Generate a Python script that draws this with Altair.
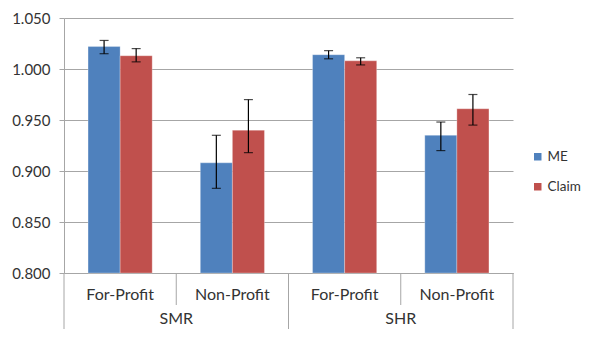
import altair as alt
import pandas as pd

groups = ["SMR", "SMR", "SHR", "SHR"]
types = ["For-Profit", "Non-Profit", "For-Profit", "Non-Profit"]
series = ["ME", "Claim"]
me_vals = [1.022, 0.908, 1.014, 0.935]
me_lo = [1.015, 0.883, 1.010, 0.920]
me_hi = [1.028, 0.935, 1.018, 0.948]
claim_vals = [1.013, 0.940, 1.008, 0.961]
claim_lo = [1.007, 0.918, 1.004, 0.945]
claim_hi = [1.020, 0.970, 1.011, 0.975]
colors = ["#4F81BD", "#C0504D"]

cats = [f"{g}|{t}" for g, t in zip(groups, types)]
rows = []
for i, c in enumerate(cats):
    rows.append({"cat": c, "series": "ME", "value": me_vals[i], "lo": me_lo[i], "hi": me_hi[i]})
    rows.append({"cat": c, "series": "Claim", "value": claim_vals[i], "lo": claim_lo[i], "hi": claim_hi[i]})
df = pd.DataFrame(rows)

W, H = 449, 255
FONT = "Lato"
TXT = "#333333"
GRID = "#A6A6A6"

xscale = alt.Scale(domain=cats, paddingInner=0, paddingOuter=0)
xoff = alt.XOffset("series:N", sort=series, scale=alt.Scale(domain=series, paddingInner=0, paddingOuter=0.75))
yscale = alt.Scale(domain=[0.8, 1.05], nice=False, zero=False)

base = alt.Chart(df)

bars = base.mark_bar(stroke="white", strokeOpacity=0.35, strokeWidth=0.8).encode(
    x=alt.X("cat:N", scale=xscale, sort=cats,
            axis=alt.Axis(title=None, labelExpr="split(datum.label, '|')[1]", labelAngle=0,
                          ticks=False, domainColor=GRID, labelFont=FONT, labelFontSize=16,
                          labelColor=TXT, labelPadding=13, grid=False)),
    xOffset=xoff,
    y=alt.Y("value:Q", scale=yscale,
            axis=alt.Axis(title=None, values=[0.8, 0.85, 0.9, 0.95, 1.0, 1.05], format=".3f",
                          gridColor=GRID, domainColor=GRID, tickColor=GRID, tickSize=5,
                          labelFont=FONT, labelFontSize=15, labelColor=TXT, labelPadding=9)),
    y2=alt.Y2(datum=0.8),
    color=alt.Color("series:N", sort=series, scale=alt.Scale(domain=series, range=colors),
                    legend=alt.Legend(title=None, orient="none", legendX=467, legendY=132,
                                      symbolType="square", symbolSize=56, symbolStrokeWidth=0,
                                      labelFont=FONT, labelFontSize=13.5, labelColor=TXT,
                                      rowPadding=15, labelOffset=3)),
)

err = base.mark_rule(color="black", strokeWidth=1.2).encode(
    x=alt.X("cat:N", scale=xscale, sort=cats),
    xOffset=xoff,
    y="lo:Q",
    y2="hi:Q",
)
cap_lo = base.mark_tick(color="black", thickness=1.2, size=9, orient="horizontal").encode(
    x=alt.X("cat:N", scale=xscale, sort=cats), xOffset=xoff, y="lo:Q")
cap_hi = base.mark_tick(color="black", thickness=1.2, size=9, orient="horizontal").encode(
    x=alt.X("cat:N", scale=xscale, sort=cats), xOffset=xoff, y="hi:Q")

short_sep = pd.DataFrame({"cat": [cats[1], cats[3]]})
long_sep = pd.DataFrame({"cat": [cats[0], cats[2]]})
end_sep = pd.DataFrame({"cat": [cats[3]]})

sep1 = alt.Chart(short_sep).mark_rule(color=GRID).encode(
    x=alt.X("cat:N", scale=xscale, sort=cats, bandPosition=0),
    y=alt.value(H), y2=alt.value(H + 32))
sep2 = alt.Chart(long_sep).mark_rule(color=GRID).encode(
    x=alt.X("cat:N", scale=xscale, sort=cats, bandPosition=0),
    y=alt.value(H), y2=alt.value(H + 56))
sep3 = alt.Chart(end_sep).mark_rule(color=GRID).encode(
    x=alt.X("cat:N", scale=xscale, sort=cats, bandPosition=1),
    y=alt.value(H), y2=alt.value(H + 56))

outer = pd.DataFrame({"cat": [cats[1], cats[3]], "label": ["SMR", "SHR"]})
outer_txt = alt.Chart(outer).mark_text(font=FONT, fontSize=16, color=TXT, baseline="middle").encode(
    x=alt.X("cat:N", scale=xscale, sort=cats, bandPosition=0),
    y=alt.value(H + 46),
    text="label:N")

chart = alt.layer(bars, err, cap_lo, cap_hi, sep1, sep2, sep3, outer_txt).properties(
    width=W, height=H,
    autosize=alt.AutoSizeParams(type="none"),
    padding={"left": 56, "top": 10, "right": 70, "bottom": 56},
).configure_view(stroke=None)

chart.save("out.html", embed_options={"renderer": "svg", "actions": False})
